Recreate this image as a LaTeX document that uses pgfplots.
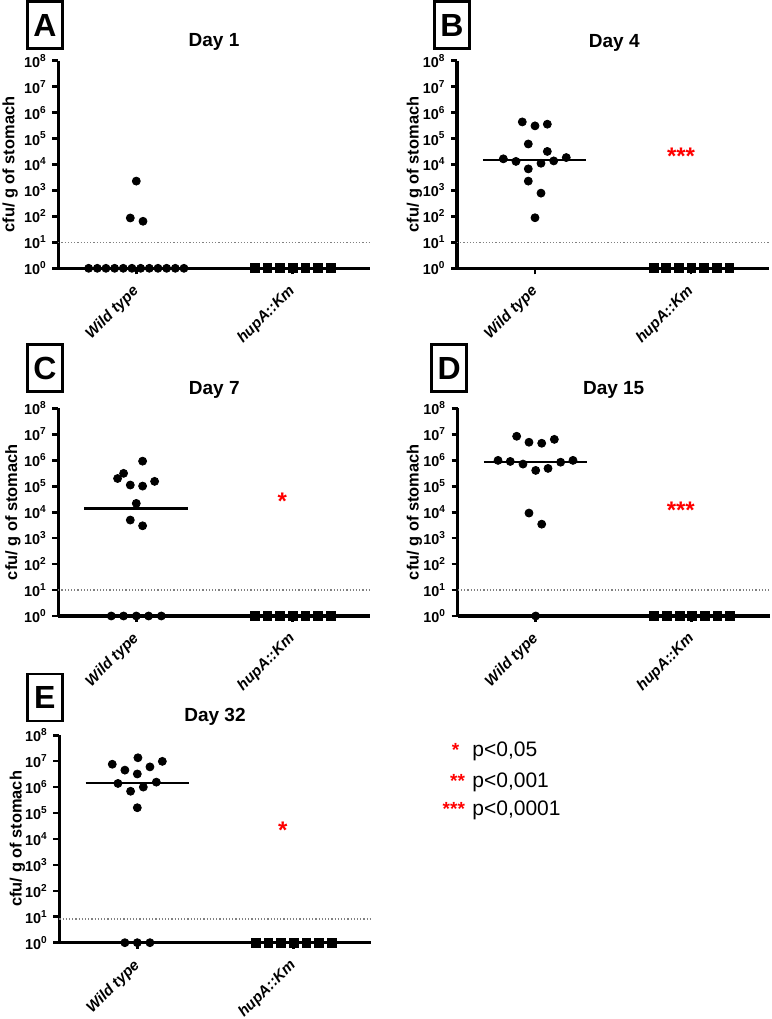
\documentclass[border=0pt]{standalone}
\usepackage{pgfplots}
\pgfplotsset{compat=1.18}
\usepackage{fontspec}
\setmainfont{Liberation Sans}
\pgfplotsset{
  mypanel/.style={
    width=156pt, height=103.75pt, scale only axis,
    xmin=0, xmax=4, ymin=1, ymax=1e8,
    axis x line*=bottom, axis y line*=left,
    axis line style={line width=1.6pt, -},
    xtick={1,3}, xticklabels={Wild type, hupA::Km},
    ytick={1,10,100,1000,10000,100000,1000000,10000000,100000000},
    yticklabels={10\textsuperscript{0},10\textsuperscript{1},10\textsuperscript{2},10\textsuperscript{3},10\textsuperscript{4},10\textsuperscript{5},10\textsuperscript{6},10\textsuperscript{7},10\textsuperscript{8}},
    xminorticks=false, yminorticks=false,
    tick align=outside, major tick length=3pt,
    tick style={line width=1.3pt, black},
    xticklabel style={inner sep=0pt, xshift=-2.5pt, yshift=-4.5pt, rotate=45, anchor=north east, font=\bfseries\itshape\fontsize{7.6}{7.6}\selectfont},
    yticklabel style={inner sep=0pt, anchor=east, xshift=-2.6pt, font=\bfseries\fontsize{7.2}{7.2}\selectfont},
    clip=false,
  },
  wt/.style={only marks, mark=*, mark size=2pt, black},
  mut/.style={only marks, mark=square*, mark size=2.2pt, black},
  med/.style={black, line width=1.2pt},
  lod/.style={gray, densely dotted, line width=0.6pt},
}
\tikzset{
  letterbox/.style={draw=black, line width=1.35pt, minimum width=17.5pt, minimum height=23.5pt, inner sep=0pt, font=\bfseries\fontsize{16}{16}\selectfont},
  ttl/.style={anchor=base, font=\bfseries\fontsize{9.5}{9.5}\selectfont},
  ylab/.style={rotate=90, anchor=base, inner sep=0pt, font=\bfseries\fontsize{8.2}{8.2}\selectfont},
  sig/.style={text=red, yshift=-1.8pt, font=\bfseries\fontsize{12}{12}\selectfont},
}
\begin{document}%
\begin{tikzpicture}

% ---------- A: Day 1
\begin{axis}[ymode=log, mypanel, at={(29.15pt,375.35pt)}, anchor=south west]
\addplot[lod] coordinates {(0,10) (4,10)};
\addplot[wt] coordinates {
(0.389,1) (0.500,1) (0.611,1) (0.722,1) (0.833,1) (0.944,1)
(1.056,1) (1.167,1) (1.278,1) (1.389,1) (1.500,1) (1.611,1)
(1.0,2300) (0.923,87) (1.086,65)};
\addplot[mut] coordinates {(2.52,1) (2.682,1) (2.844,1) (3.006,1) (3.168,1) (3.33,1) (3.492,1)};
\end{axis}

% ---------- B: Day 4
\begin{axis}[ymode=log, mypanel, at={(228.5pt,375.35pt)}, anchor=south west]
\addplot[lod] coordinates {(0,10) (4,10)};
\addplot[med] coordinates {(0.333,15100) (1.658,15100)};
\addplot[wt] coordinates {
(0.837,440000) (1.0,310000) (1.158,360000) (0.914,62000) (1.158,32000)
(0.594,16600) (0.756,13200) (0.914,6800) (1.077,11200) (1.240,13800)
(1.401,18600) (0.914,2300) (1.077,790) (1.0,89)};
\addplot[mut] coordinates {(2.52,1) (2.682,1) (2.844,1) (3.006,1) (3.168,1) (3.33,1) (3.492,1)};
\node[sig] at (axis cs:2.872,29000) {***};
\end{axis}

% ---------- C: Day 7
\begin{axis}[ymode=log, mypanel, at={(29.15pt,201.5pt)}, anchor=south west]
\addplot[lod] coordinates {(0,10) (4,10)};
\addplot[med] coordinates {(0.333,14100) (1.663,14100)};
\addplot[wt] coordinates {
(1.081,933000) (0.837,316000) (0.760,200000) (0.923,112000) (1.081,102000)
(1.235,155000) (1.0,21900) (0.923,5000) (1.081,3000)
(0.679,1) (0.837,1) (1.0,1) (1.158,1) (1.321,1)};
\addplot[mut] coordinates {(2.52,1) (2.682,1) (2.844,1) (3.006,1) (3.168,1) (3.33,1) (3.492,1)};
\node[sig] at (axis cs:2.872,36000) {*};
\end{axis}

% ---------- D: Day 15
\begin{axis}[ymode=log, mypanel, at={(228.85pt,201.5pt)}, anchor=south west]
\addplot[lod] coordinates {(0,10) (4,10)};
\addplot[med] coordinates {(0.337,870000) (1.654,870000)};
\addplot[wt] coordinates {
(0.756,8500000) (0.914,5000000) (1.077,4570000) (1.239,6460000)
(0.517,1000000) (0.674,910000) (0.837,720000) (1.0,410000) (1.158,490000)
(1.32,850000) (1.478,1000000) (0.914,9300) (1.077,3470) (1.0,1)};
\addplot[mut] coordinates {(2.52,1) (2.682,1) (2.844,1) (3.006,1) (3.168,1) (3.33,1) (3.492,1)};
\node[sig] at (axis cs:2.86,16000) {***};
\end{axis}

% ---------- E: Day 32
\begin{axis}[ymode=log, mypanel, at={(29.65pt,38.15pt)}, anchor=south west]
\addplot[lod] coordinates {(0,8.2) (4,8.2)};
\addplot[med] coordinates {(0.337,1450000) (1.66,1450000)};
\addplot[wt] coordinates {
(1.008,13500000) (0.679,7600000) (1.321,9800000) (0.841,4500000) (1.162,6000000)
(1.0,3200000) (0.752,1380000) (1.244,1550000) (0.914,690000) (1.077,1000000)
(1.0,160000) (0.841,1) (1.0,1) (1.162,1)};
\addplot[mut] coordinates {(2.52,1) (2.682,1) (2.844,1) (3.006,1) (3.168,1) (3.33,1) (3.492,1)};
\node[sig] at (axis cs:2.864,29000) {*};
\end{axis}

% ---------- panel letters
\node[letterbox] at (22.5pt,497pt) {A};
\node[letterbox] at (226pt,497pt) {B};
\node[letterbox] at (22.5pt,325.35pt) {C};
\node[letterbox] at (224.65pt,325.35pt) {D};
\node[letterbox] at (22.4pt,160.75pt) {E};

% ---------- titles
\node[ttl] at (107pt,486.25pt) {Day 1};
\node[ttl] at (307.15pt,485.5pt) {Day 4};
\node[ttl] at (107.15pt,312.1pt) {Day 7};
\node[ttl] at (306.85pt,312.1pt) {Day 15};
\node[ttl] at (107.5pt,148.6pt) {Day 32};

% ---------- y labels
\node[ylab] at (7.2pt,427.2pt) {cfu/ g of stomach};
\node[ylab] at (209.3pt,427.2pt) {cfu/ g of stomach};
\node[ylab] at (8.6pt,253.4pt) {cfu/ g of stomach};
\node[ylab] at (209.3pt,253.4pt) {cfu/ g of stomach};
\node[ylab] at (10.8pt,90.1pt) {cfu/ g of stomach};

% ---------- significance key
\node[anchor=base, inner sep=0pt, text=red, font=\bfseries\fontsize{9.5}{9.5}\selectfont] at (227.75pt,131.15pt) {*};
\node[anchor=base east, inner sep=0pt, text=red, font=\bfseries\fontsize{9.5}{9.5}\selectfont] at (232.65pt,115.65pt) {**};
\node[anchor=base east, inner sep=0pt, text=red, font=\bfseries\fontsize{9.5}{9.5}\selectfont] at (232.65pt,101.5pt) {***};
\node[anchor=base west, inner sep=0pt, font=\fontsize{10.5}{10.5}\selectfont] at (236pt,131.15pt) {p<0,05};
\node[anchor=base west, inner sep=0pt, font=\fontsize{10.5}{10.5}\selectfont] at (236pt,115.65pt) {p<0,001};
\node[anchor=base west, inner sep=0pt, font=\fontsize{10.5}{10.5}\selectfont] at (236pt,101.5pt) {p<0,0001};

\pgfresetboundingbox
\path[use as bounding box] (0,0) rectangle (386pt,509.5pt);
\end{tikzpicture}%
\end{document}
